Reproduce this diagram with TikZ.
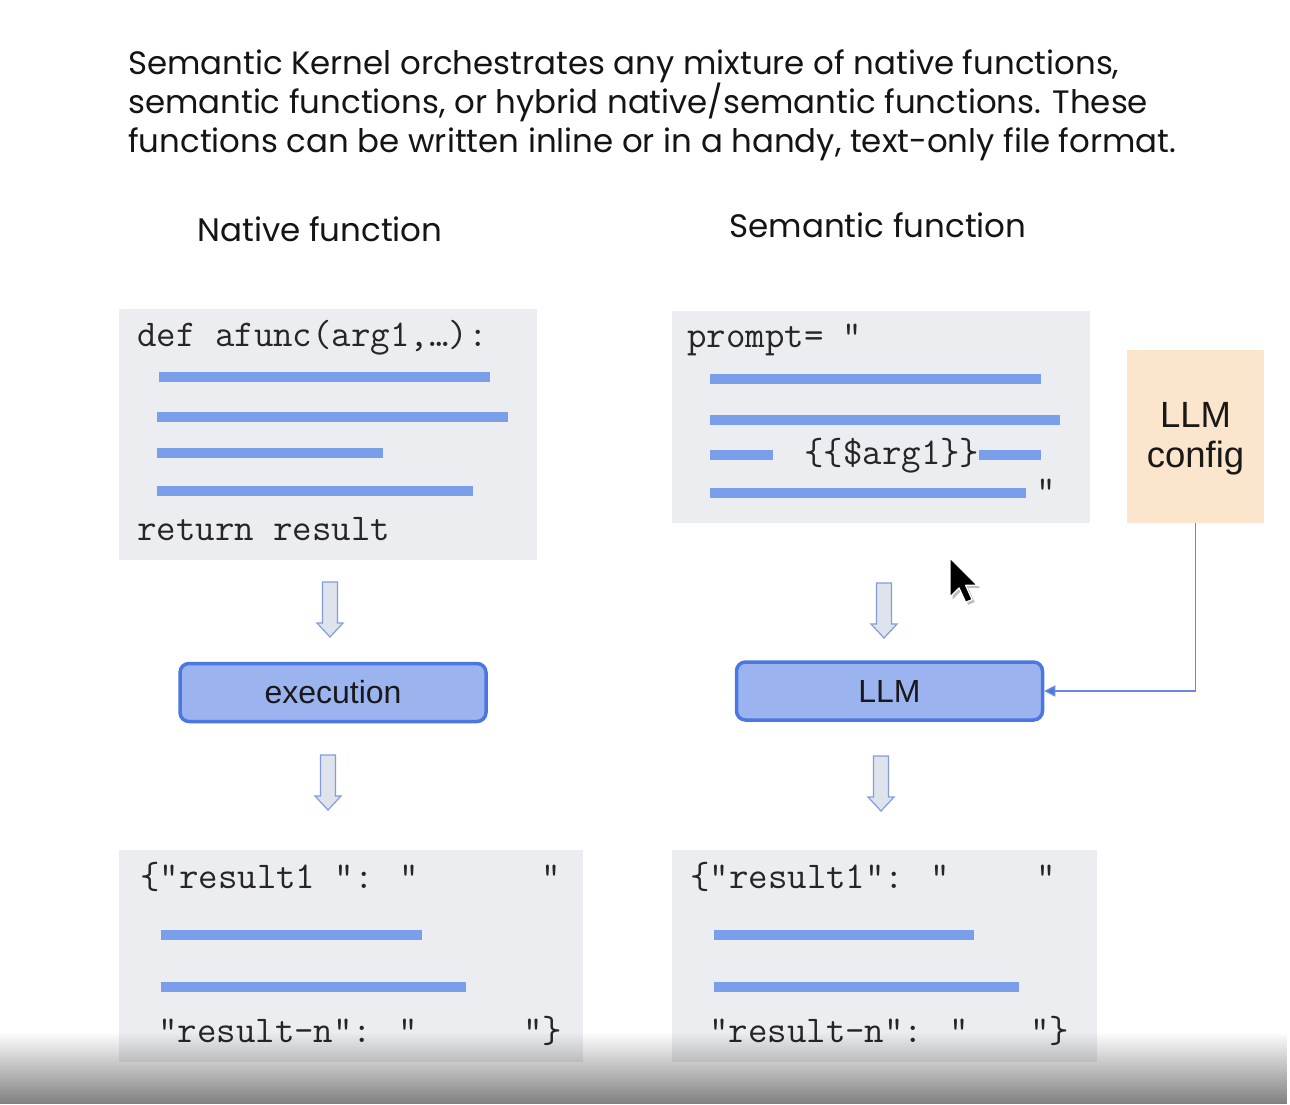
\documentclass[tikz,border=0pt]{standalone}
\usepackage{fontspec}
\setmainfont{Liberation Sans}
\newfontfamily\popfont{Poppins}
\newfontfamily\arialfont{Liberation Sans}
\usetikzlibrary{arrows.meta,fadings}
\definecolor{boxgray}{RGB}{236,237,240}
\definecolor{barblue}{RGB}{123,158,234}
\definecolor{procfill}{RGB}{155,180,240}
\definecolor{procedge}{RGB}{74,120,224}
\definecolor{peach}{RGB}{251,229,205}
\definecolor{connblue}{RGB}{104,136,222}
\definecolor{arrfill}{RGB}{222,227,236}
\definecolor{arredge}{RGB}{130,156,226}
\tikzset{
  codebox/.style={fill=boxgray, draw=none},
  bar/.style={fill=barblue, draw=none},
  code/.style={font=\ttfamily\fontsize{37.8}{37.8}\selectfont, text=black!85, inner sep=0pt, anchor=base west},
  titletext/.style={font=\popfont\fontsize{32.4}{38}\selectfont, text=black!92, inner sep=0pt, anchor=base west},
  headtext/.style={font=\popfont\fontsize{32.5}{38}\selectfont, text=black!92, inner sep=0pt, anchor=base},
  procbox/.style={rounded corners=9pt, fill=procfill, draw=procedge, line width=3.5pt, minimum width=306pt, minimum height=58pt, font=\arialfont\fontsize{32}{32}\selectfont, text=black!90},
  cfgbox/.style={fill=peach, draw=none, minimum width=137pt, minimum height=173pt},
  cfgtext/.style={font=\arialfont\fontsize{36.5}{36.5}\selectfont, text=black!90, inner sep=0pt, anchor=base},
  conn/.style={draw=connblue, line width=1.3pt, -{Triangle[length=11pt,width=11pt,fill=procedge]}},
  blockarrow/.pic={
    \filldraw[fill=arrfill, draw=arredge, line width=1.2pt]
      (-7.5,0) -- (7.5,0) -- (7.5,41) -- (13,41) -- (0,55) -- (-13,41) -- (-7.5,41) -- cycle;
  }
}
\begin{document}
\begin{tikzpicture}[x=1pt,y=-1pt]
\useasboundingbox (0,0) rectangle (1290,1104);
\fill[white] (0,0) rectangle (1290,1104);

% title
\node[titletext] (t1) at (128,74) {Semantic Kernel orchestrates any mixture of native functions,};
\node[titletext] (t2) at (128,113) {semantic functions, or hybrid native/semantic functions. These};
\node[titletext] (t3) at (128,152) {functions can be written inline or in a handy, text-only file format.};

% headings
\node[headtext] (h1) at (320,241) {Native function};
\node[headtext] (h2) at (878,237) {Semantic function};

% left code box
\fill[codebox] (119,309) rectangle (537,560);
\node[inner sep=0pt, minimum width=418pt, minimum height=251pt] (lcode) at (328,434.5) {};
\node[code] (lc1) at (137,346) {def afunc(arg1,…):};
\fill[bar] (159,372) rectangle (490,382);
\fill[bar] (157,412) rectangle (508,422);
\fill[bar] (157,448) rectangle (383,458);
\fill[bar] (157,486) rectangle (473,496);
\node[code] (lc2) at (137,540) {return result};

% right code box
\fill[codebox] (672,311) rectangle (1090,523);
\node[inner sep=0pt, minimum width=418pt, minimum height=212pt] (rcode) at (881,417) {};
\node[code] (rc1) at (687,347) {prompt= "};
\fill[bar] (710,374) rectangle (1041,384);
\fill[bar] (710,415) rectangle (1060,425);
\fill[bar] (710,450) rectangle (773,460);
\node[code] (rc2) at (804,464) {\{\{\$arg1\}\}};
\fill[bar] (979,450) rectangle (1041,460);
\fill[bar] (710,488) rectangle (1026,498);
\node[code] (rc3) at (1036,502) {"};

% LLM config
\node[cfgbox] (cfg) at (1195.5,436.5) {};
\node[cfgtext] (cfg1) at (1195.5,427) {LLM};
\node[cfgtext] (cfg2) at (1195.5,467) {config};

% process boxes
\node[procbox] (exec) at (333,692.5) {execution};
\node[procbox] (llm) at (889.5,691) {LLM};

% block arrows
\pic at (330,582) {blockarrow};
\pic at (328,755) {blockarrow};
\pic at (884,583) {blockarrow};
\pic at (881,756) {blockarrow};

% config connector
\draw[conn] (cfg.south) |- (llm.east);

% left result box
\fill[codebox] (119,850) rectangle (583,1062);
\node[code] (lr1) at (140,888) {\{"result1 ": "};
\node[code] (lr2) at (541,888) {"};
\fill[bar] (161,930) rectangle (422,940);
\fill[bar] (161,982) rectangle (466,992);
\node[code] (lr3) at (158,1042) {"result-n”: "};
\node[code] (lr4) at (523,1042) {"\}};

% right result box
\fill[codebox] (672,850) rectangle (1097,1062);
\node[code] (rr1) at (690,888) {\{"result1": "};
\node[code] (rr2) at (1036,888) {"};
\fill[bar] (714,930) rectangle (974,940);
\fill[bar] (714,982) rectangle (1019,992);
\node[code] (rr3) at (709,1042) {"result-n": "};
\node[code] (rr4) at (1030,1042) {"\}};

% mouse cursor
\begin{scope}[shift={(950,558)}, scale=1.3]
  \fill[black, opacity=0.25] (2,2) -- (2,32) -- (9,25) -- (14,36) -- (19,34) -- (14,23) -- (23,23) -- cycle;
  \filldraw[fill=black, draw=white, line width=1.2pt, line join=round]
    (0,0) -- (0,30) -- (7,23) -- (12,34) -- (17,32) -- (12,21) -- (21,21) -- cycle;
\end{scope}

% bottom gradient
\fill[black, opacity=0.5, path fading=north] (0,1032) rectangle (1290,1104);
\end{tikzpicture}
\end{document}
